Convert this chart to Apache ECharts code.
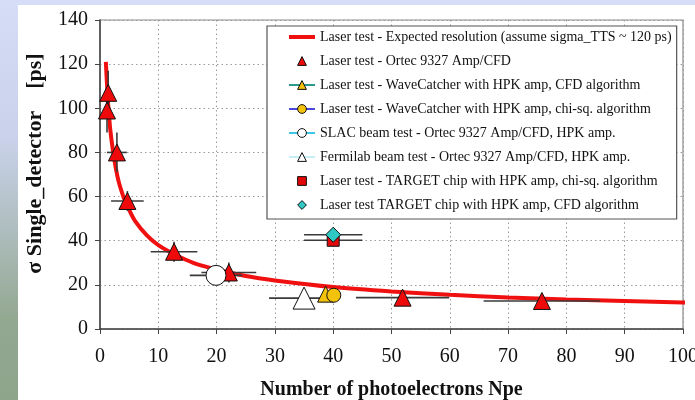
<!DOCTYPE html>
<html>
<head>
<meta charset="utf-8">
<script src="https://cdn.jsdelivr.net/npm/echarts@6/dist/echarts.min.js"></script>
<style>
  html, body { margin: 0; padding: 0; background: #ffffff; overflow: hidden; }
  #chart { width: 695px; height: 400px; }
</style>
</head>
<body>
<div id="chart"></div>
<script>
// Expected resolution curve (sigma_TTS ~ 120 ps)
const curveNpe   = [1, 1.5, 2, 3, 4, 5, 6, 8, 10, 13, 16, 20, 25, 30, 40, 50, 60, 70, 80, 90, 100, 102];
const curveSigma = [121, 98, 85, 69, 60, 54, 49, 42.5, 38, 33.5, 30, 27, 24, 22, 19, 17, 15.5, 14.3, 13.4, 12.7, 12, 11.9];

// Laser test - Ortec 9327 Amp/CFD
const ortecNpe      = [1.4, 1.2, 2.9, 4.7, 12.7, 22.1, 51.9, 75.8];
const ortecSigma    = [107, 99, 80, 58, 35, 25.6, 14.2, 12.7];
const ortecErrNpe   = [0, 0, 1.7, 2.8, 4, 4.7, 8, 10];
const ortecErrSigma = [10, 10, 9, 4.5, 4.5, 4.5, 3.5, 0];

// WaveCatcher with HPK amp
const wcCfdNpe = [38.7];   const wcCfdSigma = [15.8];
const wcChiNpe = [40.1];   const wcChiSigma = [15.3];

// SLAC beam test
const slacNpe = [19.9];    const slacSigma = [24.3];    const slacErrNpe = [4.5];
// Fermilab beam test
const fnalNpe = [35.0];    const fnalSigma = [14];      const fnalErrNpe = [6];

// TARGET chip
const targetChiNpe = [40];  const targetChiSigma = [40.2];  const targetChiErrNpe = [5];
const targetCfdNpe = [40];  const targetCfdSigma = [42.7];  const targetCfdErrNpe = [5];

const xTicks = { min: 0, max: 100, step: 10 };
const yTicks = { min: 0, max: 140, step: 20 };

const names = [
  'Laser test - Expected resolution (assume sigma_TTS ~ 120 ps)',
  'Laser test - Ortec 9327 Amp/CFD',
  'Laser test - WaveCatcher with HPK amp, CFD algorithm',
  'Laser test - WaveCatcher with HPK amp, chi-sq. algorithm',
  'SLAC beam test - Ortec 9327 Amp/CFD, HPK amp.',
  'Fermilab beam test - Ortec 9327 Amp/CFD, HPK amp.',
  'Laser test - TARGET chip with HPK amp, chi-sq. algorithm',
  'Laser test TARGET chip with HPK amp, CFD algorithm'
];

const SERIF = '"Liberation Serif", "DejaVu Serif", serif';

function zip(xs, ys) { return xs.map((x, i) => [x, ys[i]]); }

// [npe, sigma, npe half-width, sigma half-width]
const errorRows = [];
ortecNpe.forEach((x, i) => errorRows.push([x, ortecSigma[i], ortecErrNpe[i], ortecErrSigma[i]]));
slacNpe.forEach((x, i) => errorRows.push([x, slacSigma[i], slacErrNpe[i], 0]));
fnalNpe.forEach((x, i) => errorRows.push([x, fnalSigma[i], fnalErrNpe[i], 0]));
targetChiNpe.forEach((x, i) => errorRows.push([x, targetChiSigma[i], targetChiErrNpe[i], 0]));
targetCfdNpe.forEach((x, i) => errorRows.push([x, targetCfdSigma[i], targetCfdErrNpe[i], 0]));

function renderErrorBar(params, api) {
  const x = api.value(0), y = api.value(1), ex = api.value(2), ey = api.value(3);
  const style = { stroke: '#3a3a3a', lineWidth: 1.6 };
  const children = [];
  if (ex > 0) {
    const a = api.coord([x - ex, y]), b = api.coord([x + ex, y]);
    children.push({ type: 'line', shape: { x1: a[0], y1: a[1], x2: b[0], y2: b[1] }, style });
  }
  if (ey > 0) {
    const a = api.coord([x, y - ey]), b = api.coord([x, y + ey]);
    children.push({ type: 'line', shape: { x1: a[0], y1: a[1], x2: b[0], y2: b[1] }, style });
  }
  return { type: 'group', children };
}

function markerSeries(name, data, symbol, size, color, z) {
  return {
    name, type: 'line', data, symbol, symbolSize: size,
    showSymbol: true, showAllSymbol: true,
    lineStyle: { opacity: 0, width: 0 },
    itemStyle: { color, borderColor: '#111', borderWidth: 1 },
    emphasis: { disabled: true }, animation: false, z: z || 5
  };
}

const chart = echarts.init(document.getElementById('chart'), null, { renderer: 'canvas' });

chart.setOption({
  animation: false,
  backgroundColor: 'transparent',
  graphic: [
    { type: 'rect', z: -20, silent: true, shape: { x: 0, y: 0, width: 695, height: 400 }, style: { fill: '#d6ddf7' } },
    { type: 'rect', z: -19, silent: true, shape: { x: 0, y: 0, width: 18, height: 400 },
      style: { fill: new echarts.graphic.LinearGradient(0, 0, 0, 1, [
        { offset: 0, color: '#d6ddf7' }, { offset: 0.35, color: '#c9d2ea' },
        { offset: 0.8, color: '#93a891' }, { offset: 1, color: '#8ea48b' }]) } },
    { type: 'rect', z: -18, silent: true, shape: { x: 18, y: 5, width: 677, height: 395 }, style: { fill: '#ffffff' } }
  ],
  grid: {
    left: 100, right: 12, top: 20, bottom: 71,
    outerBoundsMode: 'none', containLabel: false,
    show: true, borderColor: '#8a8a8a', borderWidth: 1.2, backgroundColor: 'transparent'
  },
  legend: {
    orient: 'vertical', left: 267, top: 26,
    padding: [3, 5, 6, 20],
    backgroundColor: '#ffffff', borderColor: '#555', borderWidth: 1.2,
    itemWidth: 26, itemHeight: 11, itemGap: 8,
    selectedMode: false,
    textStyle: { fontFamily: SERIF, fontSize: 14, color: '#111', lineHeight: 16 },
    itemStyle: { borderWidth: 1, borderColor: '#111' },
    data: [
      { name: names[0], itemStyle: { opacity: 0, borderWidth: 0 }, lineStyle: { color: '#f01010', width: 4, opacity: 1 } },
      { name: names[1], lineStyle: { opacity: 0 } },
      { name: names[2], lineStyle: { color: '#2a9a8c', width: 2, opacity: 1 } },
      { name: names[3], lineStyle: { color: '#4b48e0', width: 2, opacity: 1 } },
      { name: names[4], lineStyle: { color: '#3cc6e8', width: 2, opacity: 1 } },
      { name: names[5], lineStyle: { color: '#c6eef5', width: 2, opacity: 1 } },
      { name: names[6], lineStyle: { opacity: 0 } },
      { name: names[7], lineStyle: { opacity: 0 } }
    ],
    z: 10
  },
  xAxis: {
    type: 'value', min: xTicks.min, max: xTicks.max, interval: xTicks.step,
    name: 'Number of photoelectrons Npe', nameLocation: 'middle', nameGap: 51,
    nameTextStyle: { fontFamily: SERIF, fontSize: 20, fontWeight: 'bold', color: '#111' },
    axisLine: { onZero: false, lineStyle: { color: '#444', width: 1.5 } },
    axisTick: { show: true, inside: false, length: 5, lineStyle: { color: '#444' } },
    axisLabel: { fontFamily: SERIF, fontSize: 20, color: '#111', margin: 18 },
    splitLine: { show: true, lineStyle: { color: '#9a9a9a', width: 1, type: [1.5, 3] } }
  },
  yAxis: {
    type: 'value', min: yTicks.min, max: yTicks.max, interval: yTicks.step,
    name: 'σ Single_detector    [ps]', nameLocation: 'middle', nameGap: 54, nameRotate: 90,
    nameTextStyle: { fontFamily: SERIF, fontSize: 22, fontWeight: 'bold', color: '#111', padding: [0, 0, 0, 22] },
    axisLine: { show: true, onZero: false, lineStyle: { color: '#444', width: 1.5 } },
    axisTick: { show: true, inside: false, length: 5, lineStyle: { color: '#444' } },
    axisLabel: { fontFamily: SERIF, fontSize: 20, color: '#111', margin: 12 },
    splitLine: { show: true, lineStyle: { color: '#9a9a9a', width: 1, type: [1.5, 3] } }
  },
  series: [
    {
      name: names[0], type: 'line', data: zip(curveNpe, curveSigma),
      smooth: 0.3, symbol: 'none', clip: false,
      lineStyle: { color: '#f01010', width: 4 }, itemStyle: { color: '#f01010' },
      emphasis: { disabled: true }, z: 2
    },
    {
      name: 'error bars', type: 'custom', renderItem: renderErrorBar,
      data: errorRows, z: 3, silent: true, clip: false
    },
    markerSeries(names[1], zip(ortecNpe, ortecSigma), 'triangle', 17, '#ee0a0a'),
    markerSeries(names[2], zip(wcCfdNpe, wcCfdSigma), 'triangle', 16, '#f3c20a'),
    markerSeries(names[3], zip(wcChiNpe, wcChiSigma), 'circle', 14, '#f3c20a', 6),
    markerSeries(names[4], zip(slacNpe, slacSigma), 'circle', 20, '#ffffff'),
    markerSeries(names[5], zip(fnalNpe, fnalSigma), 'triangle', 22, '#ffffff'),
    markerSeries(names[6], zip(targetChiNpe, targetChiSigma), 'rect', 12, '#e00808'),
    markerSeries(names[7], zip(targetCfdNpe, targetCfdSigma), 'diamond', 15, '#2fc8c4', 6)
  ]
});
</script>
</body>
</html>
